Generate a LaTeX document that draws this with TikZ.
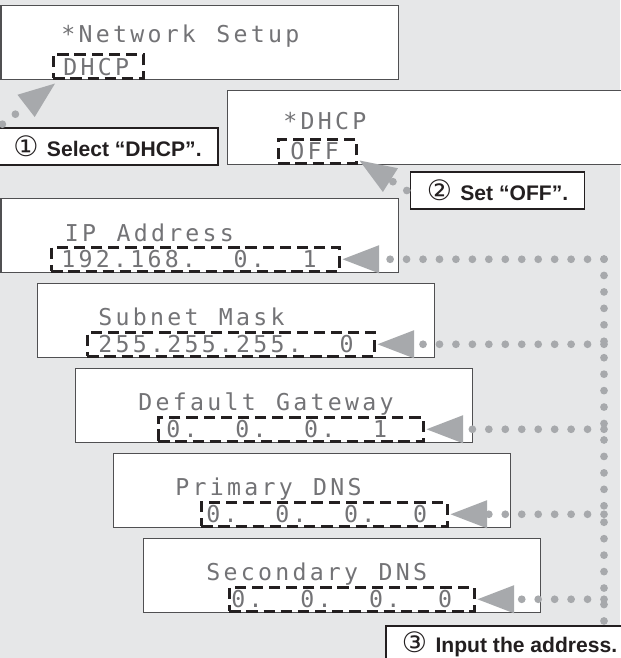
\documentclass[tikz,border=0pt]{standalone}
\usepackage{fontspec}
\setmainfont{Liberation Sans}
\newfontfamily\lcdfont{DejaVu Sans Mono}
\newfontfamily\circfont{DejaVu Sans}
\usetikzlibrary{arrows.meta}

\definecolor{bggray}{RGB}{230,231,232}
\definecolor{dotgray}{RGB}{167,169,172}
\definecolor{edgegray}{RGB}{80,80,82}
\definecolor{lcdgray}{RGB}{115,115,118}
\definecolor{inkblack}{RGB}{35,31,32}

\newlength\pxl \setlength\pxl{0.025cm}
\newlength\lcdpitch \setlength\lcdpitch{12.25pt}

% one LCD cell per character, _ gives an empty cell
\def\lcd#1{\lcdcell#1\relax}
\def\lcdcell#1{\ifx\relax#1\else\makebox[\lcdpitch][c]{\ifx_#1\else#1\fi}\expandafter\lcdcell\fi}
\newcommand\stepno[1]{{\circfont\mdseries\fontsize{20}{20}\selectfont #1}\hspace{6pt}}

\begin{document}
\begin{tikzpicture}[
    x=0.025cm, y=-0.025cm,
    panel/.style={rectangle, draw=edgegray, fill=white, line width=0.9pt, minimum width=397*\pxl, minimum height=74*\pxl, anchor=north west, inner sep=0pt},
    field/.style={rectangle, draw=inkblack, line width=1.8pt, dash pattern=on 8pt off 4.2pt, minimum height=24*\pxl, anchor=north west, inner sep=0pt},
    lcdtext/.style={font=\lcdfont\fontsize{16.5}{18}\selectfont, text=lcdgray, anchor=base west, inner sep=0pt},
    callout/.style={rectangle, draw=inkblack, fill=white, line width=1.1pt, font=\bfseries\fontsize{15}{18}\selectfont, text=inkblack, minimum height=37*\pxl, inner xsep=11.5pt, inner ysep=0pt},
    dots/.style={draw=dotgray, line width=5.5pt, line cap=round, dash pattern=on 0pt off 11.7pt},
    feed/.style={dots, -{Triangle[length=26pt, width=20pt, line width=0pt]}}
]
    \fill[bggray] (0,0) rectangle (620,658);
    \useasboundingbox (0,0) rectangle (620,658);

    % display panels
    \node[panel] (pnet) at (0.5,5) {};
    \node[panel] (pdhcp) at (227,90) {};
    \node[panel] (pip) at (0.5,198) {};
    \node[panel] (psub) at (37,283) {};
    \node[panel] (pgw) at (75,368) {};
    \node[panel] (ppri) at (113,453) {};
    \node[panel] (psec) at (143,538) {};

    \node[lcdtext] (tnet) at (59.5,42) {\lcd{*Network_Setup}};
    \node[lcdtext] (tdhcp) at (281.5,129) {\lcd{*DHCP}};
    \node[lcdtext] (tip) at (63,241) {\lcd{IP_Address}};
    \node[lcdtext] (tsub) at (96.5,325) {\lcd{Subnet_Mask}};
    \node[lcdtext] (tgw) at (136.5,410) {\lcd{Default_Gateway}};
    \node[lcdtext] (tpri) at (173.5,495) {\lcd{Primary_DNS}};
    \node[lcdtext] (tsec) at (204.5,580) {\lcd{Secondary_DNS}};

    % input fields
    \node[field, minimum width=90*\pxl] (fnet) at (52,53) {};
    \node[field, minimum width=78*\pxl] (fdhcp) at (277,138) {};
    \node[field, minimum width=288*\pxl] (fip) at (50,246) {};
    \node[field, minimum width=287*\pxl] (fsub) at (86,331) {};
    \node[field, minimum width=265*\pxl] (fgw) at (157,416) {};
    \node[field, minimum width=246*\pxl] (fpri) at (200,501) {};
    \node[field, minimum width=245*\pxl] (fsec) at (228,586) {};

    \node[lcdtext] (vnet) at (61.5,75) {\lcd{DHCP}};
    \node[lcdtext] (vdhcp) at (288.5,159) {\lcd{OFF}};
    \node[lcdtext] (vip) at (59.5,267) {\lcd{192.168.__0.__1}};
    \node[lcdtext] (vsub) at (96.5,352) {\lcd{255.255.255.__0}};
    \node[lcdtext] (vgw) at (164.5,437) {\lcd{0.__0.__0.__1}};
    \node[lcdtext] (vpri) at (204.5,522) {\lcd{0.__0.__0.__0}};
    \node[lcdtext] (vsec) at (229.5,607) {\lcd{0.__0.__0.__0}};

    % steps
    \node[callout] (lsel) at (107.5,146.5) {\stepno{①}Select “DHCP”.};
    \node[callout] (loff) at (497.5,190.5) {\stepno{②}Set “OFF”.};
    \node[callout, anchor=north west] (linp) at (385,625) {\stepno{③}Input the address.};

    \draw[feed] ([shift={(6,-3)}]lsel.north west) -- ([shift={(3,4)}]fnet.south west);
    \draw[feed] ([shift={(-3,0)}]loff.west) -- ([shift={(2,-4)}]fdhcp.south east);

    \coordinate (bustop) at (604,259);
    \draw[dots] (bustop) -- (bustop |- linp.north);
    \draw[feed] (bustop |- fip.east) -- ([shift={(2,0)}]fip.east);
    \draw[feed] (bustop |- fsub.east) -- ([shift={(2,0)}]fsub.east);
    \draw[feed] (bustop |- fgw.east) -- ([shift={(2,0)}]fgw.east);
    \draw[feed] (bustop |- fpri.east) -- ([shift={(2,0)}]fpri.east);
    \draw[feed] (bustop |- fsec.east) -- ([shift={(2,0)}]fsec.east);
\end{tikzpicture}
\end{document}
